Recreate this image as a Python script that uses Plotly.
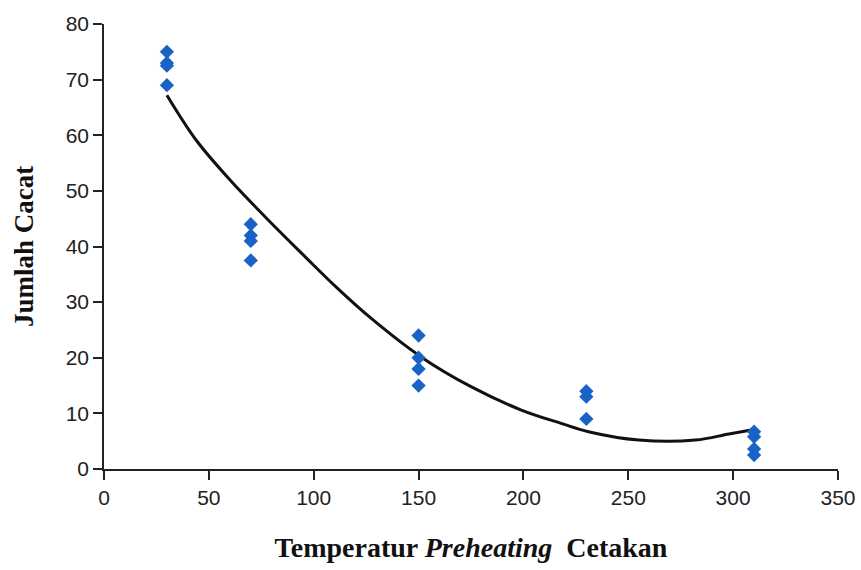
import plotly.graph_objects as go

# Scatter data (temperature, defect count)
temp_x = [30, 30, 30, 30,
          70, 70, 70, 70,
          150, 150, 150, 150,
          230, 230, 230,
          310, 310, 310, 310]
defects_y = [75, 73, 72.5, 69,
             44, 42, 41, 37.5,
             24, 20, 18, 15,
             14, 13, 9,
             6.7, 5.8, 3.6, 2.5]

# Trend curve
trend_x = [30, 44, 60, 79, 95, 111, 127, 151, 175, 199, 218, 231, 255, 282, 298, 310]
trend_y = [67.2, 59.1, 52.0, 44.5, 38.5, 32.6, 27.2, 20.2, 14.8, 10.6, 8.2, 6.7, 5.2, 5.2, 6.3, 7.1]

x_ticks = [0, 50, 100, 150, 200, 250, 300, 350]
y_ticks = [0, 10, 20, 30, 40, 50, 60, 70, 80]

fig = go.Figure()
fig.add_trace(go.Scatter(
    x=trend_x, y=trend_y, mode="lines",
    line=dict(color="#111111", width=3, shape="spline", smoothing=1.0),
    hoverinfo="skip", showlegend=False))
fig.add_trace(go.Scatter(
    x=temp_x, y=defects_y, mode="markers",
    marker=dict(symbol="diamond", size=11, color="#1a63c6",
                line=dict(width=0)),
    showlegend=False))

tickfont = dict(family="Liberation Sans, Arial", size=21, color="#222222")
fig.update_layout(
    width=861, height=570,
    margin=dict(l=104, r=23, t=24, b=101),
    paper_bgcolor="white", plot_bgcolor="white",
    xaxis=dict(range=[0, 350], tickvals=x_ticks, showgrid=False, zeroline=False,
               automargin=False,
               showline=True, linecolor="#222222", linewidth=1.5,
               ticks="outside", ticklen=9, tickcolor="#222222", tickwidth=1.5,
               tickfont=tickfont,
               title=dict(text="<b>Temperatur <i>Preheating</i>  Cetakan</b>",
                          font=dict(family="Liberation Serif, Times New Roman", size=28, color="#111111"),
                          standoff=29)),
    yaxis=dict(range=[0, 80], tickvals=y_ticks, showgrid=False, zeroline=False,
               automargin=False,
               showline=True, linecolor="#222222", linewidth=1.5,
               ticks="outside", ticklen=9, tickcolor="#222222", tickwidth=1.5,
               tickfont=tickfont,
               title=dict(text="<b>Jumlah Cacat</b>",
                          font=dict(family="Liberation Serif, Times New Roman", size=27, color="#111111"),
                          standoff=24)),
)

fig.write_html("out.html", config={"displayModeBar": False},
               post_script="document.body.style.margin='0';document.body.style.overflow='hidden';")
